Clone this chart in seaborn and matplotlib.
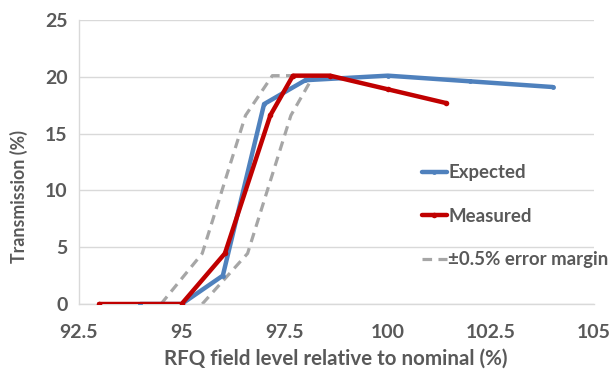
import numpy as np
import pandas as pd
import seaborn as sns
import matplotlib.pyplot as plt

# values
exp_x = [94.0, 95.0, 96.0, 97.0, 98.0, 100.0, 102.0, 104.0]
exp_y = [0.0, 0.0, 2.5, 17.6, 19.7, 20.1, 19.6, 19.1]
meas_x = [93.0, 95.0, 96.05, 97.15, 97.7, 98.6, 100.0, 101.4]
meas_y = [0.0, 0.0, 4.45, 16.6, 20.1, 20.1, 18.9, 17.7]
low_x = [94.5, 95.5, 96.55, 97.2, 98.1]
low_y = [0.0, 4.45, 16.6, 20.1, 20.1]
high_x = [95.5, 96.6, 97.65, 98.2, 98.6]
high_y = [0.0, 4.45, 16.6, 20.1, 20.1]

sns.set_style("white")
plt.rcParams["font.family"] = ["Lato", "DejaVu Sans"]
txt = "#595959"

fig = plt.figure(figsize=(6.14, 3.69), dpi=100)
ax = fig.add_axes([78.5 / 614, 1 - 304 / 369, (594 - 78.5) / 614, (304 - 20) / 369])

df_exp = pd.DataFrame({"x": exp_x, "y": exp_y})
df_meas = pd.DataFrame({"x": meas_x, "y": meas_y})
df_low = pd.DataFrame({"x": low_x, "y": low_y})
df_high = pd.DataFrame({"x": high_x, "y": high_y})

sns.lineplot(data=df_low, x="x", y="y", ax=ax, color="#A6A6A6", lw=2.3,
             linestyle=(0, (3, 2)), estimator=None, sort=False,
             label="±0.5% error margin", zorder=2)
sns.lineplot(data=df_high, x="x", y="y", ax=ax, color="#A6A6A6", lw=2.3,
             linestyle=(0, (3, 2)), estimator=None, sort=False, zorder=2)
sns.lineplot(data=df_exp, x="x", y="y", ax=ax, color="#4F81BD", lw=3.2,
             marker="o", markersize=3.5, markeredgewidth=0, estimator=None,
             sort=False, label="Expected", zorder=3)
sns.lineplot(data=df_meas, x="x", y="y", ax=ax, color="#C00000", lw=3.2,
             marker="o", markersize=4, markeredgewidth=0, estimator=None,
             sort=False, label="Measured", zorder=4)

ax.set_xlim(92.5, 105)
ax.set_ylim(0, 25)
ax.set_xticks([92.5, 95, 97.5, 100, 102.5, 105])
ax.set_xticklabels(["92.5", "95", "97.5", "100", "102.5", "105"])
ax.set_yticks([0, 5, 10, 15, 20, 25])
ax.grid(axis="y", color="#D9D9D9", lw=1)
ax.grid(axis="x", visible=False)
for s in ["top", "right"]:
    ax.spines[s].set_visible(False)
for s in ["left", "bottom"]:
    ax.spines[s].set_color("#D9D9D9")
    ax.spines[s].set_linewidth(1)
ax.tick_params(axis="both", length=0, labelsize=14, labelcolor=txt)
ax.tick_params(axis="x", pad=14.5)
ax.tick_params(axis="y", pad=8)
for lab in ax.get_xticklabels() + ax.get_yticklabels():
    lab.set_fontweight("bold")

ax.set_xlabel("RFQ field level relative to nominal (%)", fontsize=14.8,
              fontweight="bold", color=txt)
ax.set_ylabel("Transmission (%)", fontsize=12.8, fontweight="bold", color=txt)
ax.xaxis.set_label_coords(0.5, -0.158)
ax.yaxis.set_label_coords(-0.098, 0.38)

h, l = ax.get_legend_handles_labels()
order = [l.index("Expected"), l.index("Measured"), l.index("±0.5% error margin")]
leg = ax.legend([h[i] for i in order], [l[i] for i in order], frameon=False,
                loc="upper left", bbox_to_anchor=(0.666, 0.492),
                prop={"weight": "bold", "size": 13.4}, labelcolor=txt,
                handlelength=1.35, handletextpad=0.08, labelspacing=1.42,
                borderaxespad=0, borderpad=0)

fig.savefig("out.png", dpi=100)
